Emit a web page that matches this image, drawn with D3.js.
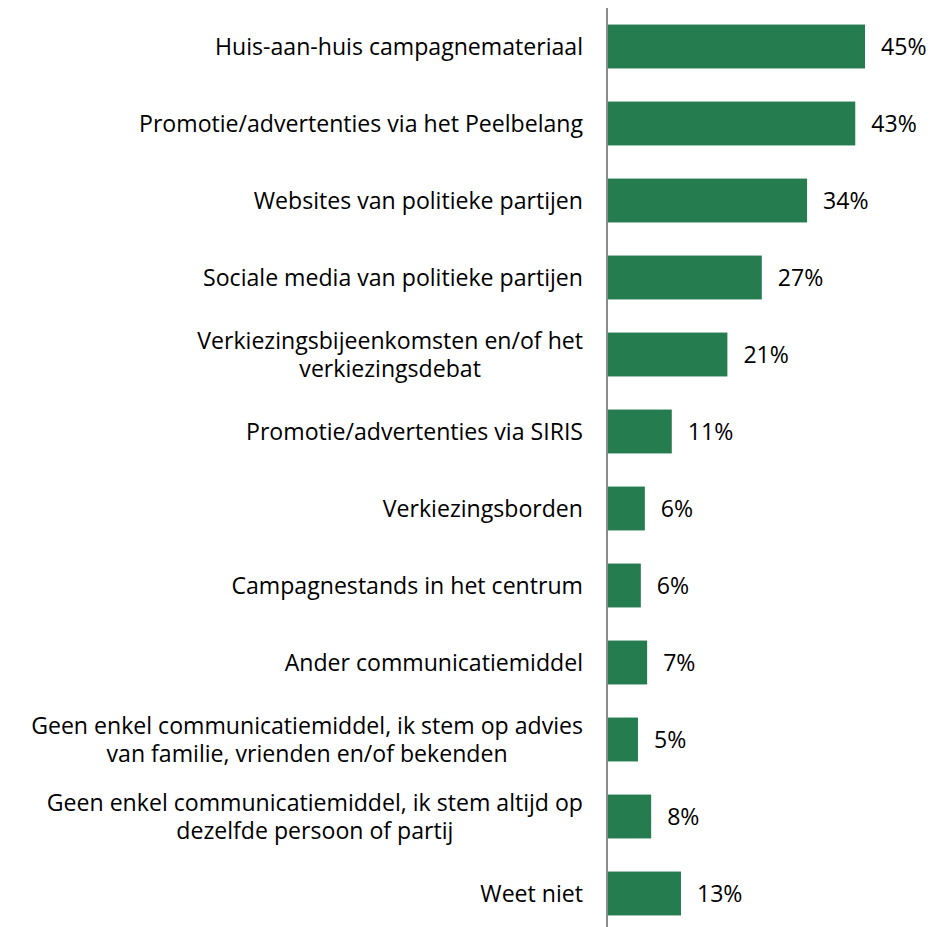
<!DOCTYPE html>
<html><head><meta charset="utf-8">
<script src="https://cdn.jsdelivr.net/npm/d3@7"></script>
<style>html,body{margin:0;padding:0;background:#fff;}svg{display:block;}</style>
</head><body>
<svg id="chart" width="948" height="927"></svg>
<script>
const categories = [
  ["Huis-aan-huis campagnemateriaal"],
  ["Promotie/advertenties via het Peelbelang"],
  ["Websites van politieke partijen"],
  ["Sociale media van politieke partijen"],
  ["Verkiezingsbijeenkomsten en/of het", "verkiezingsdebat"],
  ["Promotie/advertenties via SIRIS"],
  ["Verkiezingsborden"],
  ["Campagnestands in het centrum"],
  ["Ander communicatiemiddel"],
  ["Geen enkel communicatiemiddel, ik stem op advies", "van familie, vrienden en/of bekenden"],
  ["Geen enkel communicatiemiddel, ik stem altijd op", "dezelfde persoon of partij"],
  ["Weet niet"]
];
const values = [45.0, 43.3, 34.9, 27.0, 21.0, 11.3, 6.6, 5.9, 7.0, 5.4, 7.7, 12.9];
const valueLabels = ["45%", "43%", "34%", "27%", "21%", "11%", "6%", "6%", "7%", "5%", "8%", "13%"];

const svg = d3.select("#chart");
const x0 = 607;
const x = d3.scaleLinear().domain([0, 45]).range([x0, 865]);
const y = d3.scaleBand().domain(d3.range(categories.length)).range([8, 932]).paddingInner(0.43).paddingOuter(0.215);

const font = "'Open Sans', sans-serif";
const fs = 23.1;

svg.append("g").selectAll("rect").data(values).join("rect")
  .attr("x", x0)
  .attr("y", (d, i) => y(i))
  .attr("width", d => x(d) - x0)
  .attr("height", y.bandwidth())
  .attr("fill", "#257C4F");

svg.append("line")
  .attr("x1", x0).attr("x2", x0).attr("y1", 8).attr("y2", 927)
  .attr("stroke", "#8c8c8c").attr("stroke-width", 2);

svg.append("g").selectAll("text").data(values).join("text")
  .attr("x", d => x(d) + 16)
  .attr("y", (d, i) => y(i) + y.bandwidth() / 2)
  .attr("dy", "0.36em")
  .attr("font-family", font)
  .attr("font-size", fs)
  .attr("fill", "#000")
  .text((d, i) => valueLabels[i]);

const lg = svg.append("g");
categories.forEach((lines, i) => {
  const cy = y(i) + y.bandwidth() / 2;
  const lh = 28.5;
  const t = lg.append("text")
    .attr("font-family", font)
    .attr("font-size", fs)
    .attr("fill", "#000")
    .attr("text-anchor", lines.length > 1 ? "middle" : "end");
  lines.forEach((ln, j) => {
    t.append("tspan")
      .attr("x", lines.length > 1 ? null : 583)
      .attr("y", cy + (j - (lines.length - 1) / 2) * lh)
      .attr("dy", "0.36em")
      .text(ln);
  });
  if (lines.length > 1) {
    const w = d3.max(t.selectAll("tspan").nodes(), n => n.getComputedTextLength());
    t.selectAll("tspan").attr("x", 583 - w / 2);
  }
});
</script>
</body></html>
